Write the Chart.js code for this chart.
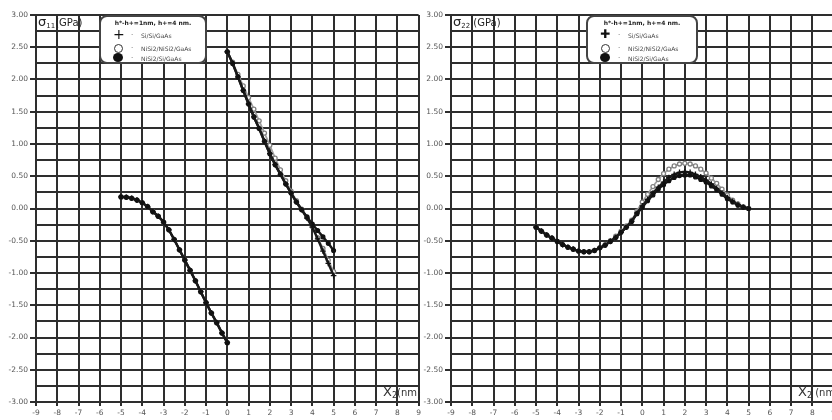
<!DOCTYPE html>
<html>
<head>
<meta charset="utf-8">
<script src="https://cdn.jsdelivr.net/npm/chart.js@4"></script>
<style>
  body { margin: 0; background: #fff; font-family: "DejaVu Sans", sans-serif; }
  #wrap { position: relative; width: 832px; height: 420px; overflow: hidden; }
  .panel { position: absolute; top: 0; width: 424px; height: 420px; }
  .ttl { position: absolute; top: 14px; left: 38px; color: #222; font-size: 10px; white-space: nowrap; }
  .ttl .sig { font-size: 13px; }
  .ttl sub { font-size: 7px; vertical-align: -2px; }
  .xlab { position: absolute; top: 384px; left: 383px; color: #333; font-size: 10px; white-space: nowrap; }
  .xlab .big { font-size: 13px; }
  .xlab sub { font-size: 8px; vertical-align: -2px; }
  .leg { position: absolute; top: 15px; height: 45px; background: #fff; border: 2px solid #444; border-radius: 8px; }
  .leg .hd { position: absolute; top: 2px; left: 0; right: 0; text-align: center; font-size: 6px; font-weight: bold; color: #222; }
  .leg .row { position: absolute; left: 0; height: 10px; font-size: 6px; color: #444; }
  .leg .mk { position: absolute; left: 12px; top: 0; width: 14px; height: 10px; }
  .leg .dot { position: absolute; left: 30px; top: 1px; font-size: 7px; }
  .leg .txt { position: absolute; left: 40px; top: 2px; white-space: nowrap; }
</style>
</head>
<body>
<div id="wrap">
  <div class="panel" style="left:0px">
    <canvas id="c11"></canvas>
    <div class="ttl"><span class="sig">σ</span><sub>11</sub>(GPa)</div>
    <div class="xlab"><span class="big">X</span><sub>2</sub>(nm)</div>
    <div class="leg" id="leg11" style="left:99px;width:104px"></div>
  </div>
  <div class="panel" style="left:415px">
    <canvas id="c22"></canvas>
    <div class="ttl"><span class="sig">σ</span><sub>22</sub> (GPa)</div>
    <div class="xlab"><span class="big">X</span><sub>2</sub> (nm)</div>
    <div class="leg" id="leg22" style="left:171px;width:108px"></div>
  </div>
</div>
<script>
const legendTitle = 'h*-h+=1nm, h+=4 nm.'
const seriesNames = ['Si/Si/GaAs', 'NiSi2/NiSi2/GaAs', 'NiSi2/Si/GaAs']

// sigma11 : x2 from -5 to 0 (all three structures overlap here)
const x11Left = [-5, -4.75, -4.5, -4.25, -4, -3.75, -3.5, -3.25, -3, -2.75, -2.5, -2.25, -2, -1.75, -1.5, -1.25, -1, -0.75, -0.5, -0.25, 0]
const s11Left = [0.18, 0.175, 0.16, 0.13, 0.09, 0.03, -0.05, -0.12, -0.21, -0.33, -0.48, -0.64, -0.80, -0.96, -1.12, -1.29, -1.46, -1.62, -1.77, -1.93, -2.08]

// sigma11 : x2 from 0 to 5
const x11Right = [0, 0.25, 0.5, 0.75, 1, 1.25, 1.5, 1.75, 2, 2.25, 2.5, 2.75, 3, 3.25, 3.5, 3.75, 4, 4.25, 4.5, 4.75, 5]
const s11SiSi = [2.43, 2.25, 2.04, 1.83, 1.62, 1.42, 1.24, 1.04, 0.85, 0.68, 0.53, 0.38, 0.24, 0.10, -0.02, -0.15, -0.29, -0.47, -0.66, -0.85, -1.04]
const s11NiNi = [2.43, 2.27, 2.08, 1.90, 1.72, 1.54, 1.36, 1.17, 0.98, 0.78, 0.60, 0.43, 0.27, 0.12, -0.01, -0.14, -0.28, -0.45, -0.62, -0.80, -0.98]
const s11NiSi = [2.43, 2.25, 2.04, 1.83, 1.62, 1.42, 1.24, 1.04, 0.85, 0.68, 0.53, 0.38, 0.24, 0.10, -0.02, -0.13, -0.24, -0.34, -0.44, -0.54, -0.65]

// sigma22 : x2 from -5 to 5
const x22 = [-5, -4.75, -4.5, -4.25, -4, -3.75, -3.5, -3.25, -3, -2.75, -2.5, -2.25, -2, -1.75, -1.5, -1.25, -1, -0.75, -0.5, -0.25,
    0, 0.25, 0.5, 0.75, 1, 1.25, 1.5, 1.75, 2, 2.25, 2.5, 2.75, 3, 3.25, 3.5, 3.75, 4, 4.25, 4.5, 4.75, 5]
const s22SiSi = [-0.29, -0.35, -0.41, -0.46, -0.51, -0.56, -0.60, -0.63, -0.66, -0.67, -0.67, -0.65, -0.61, -0.57, -0.51, -0.45, -0.37, -0.29, -0.20, -0.07,
    0.04, 0.14, 0.24, 0.33, 0.41, 0.48, 0.53, 0.56, 0.57, 0.56, 0.53, 0.49, 0.44, 0.38, 0.31, 0.24, 0.17, 0.11, 0.06, 0.02, 0.00]
const s22NiNi = [-0.29, -0.35, -0.41, -0.46, -0.51, -0.56, -0.60, -0.63, -0.66, -0.67, -0.67, -0.65, -0.61, -0.56, -0.50, -0.43, -0.35, -0.27, -0.18, -0.04,
    0.10, 0.22, 0.34, 0.45, 0.54, 0.61, 0.66, 0.69, 0.70, 0.69, 0.66, 0.61, 0.55, 0.47, 0.39, 0.30, 0.21, 0.13, 0.07, 0.03, 0.00]
const s22NiSi = [-0.29, -0.35, -0.41, -0.46, -0.51, -0.56, -0.60, -0.63, -0.66, -0.67, -0.67, -0.65, -0.61, -0.57, -0.51, -0.45, -0.37, -0.29, -0.20, -0.08,
    0.02, 0.12, 0.21, 0.30, 0.37, 0.43, 0.48, 0.51, 0.52, 0.52, 0.49, 0.45, 0.41, 0.35, 0.29, 0.22, 0.15, 0.10, 0.05, 0.02, 0.00]

const yTicks = [-3, -2.5, -2, -1.5, -1, -0.5, 0, 0.5, 1, 1.5, 2, 2.5, 3]
const xTicks = [-9, -8, -7, -6, -5, -4, -3, -2, -1, 0, 1, 2, 3, 4, 5, 6, 7, 8, 9]

Chart.defaults.font.family = '"DejaVu Sans", sans-serif'
Chart.defaults.animation = false

function pts(xs, ys) {
    return xs.map((x, i) => ({ x: x, y: ys[i] }))
}

// left branch, a break at x2 = 0, then the right branch
function twoBranches(ys) {
    return pts(x11Left, s11Left).concat([{ x: 0, y: null }], pts(x11Right, ys))
}

// order: the grey open circles go underneath the black marks
const styles = [
    { pointStyle: 'cross', color: '#111', fill: '#111', line: '#1a1a1a', radius: 2.8, width: 2.4, order: 1 },
    { pointStyle: 'circle', color: '#808080', fill: '#fff', line: '#a0a0a0', radius: 2, width: 1.8, order: 3 },
    { pointStyle: 'circle', color: '#111', fill: '#111', line: '#1a1a1a', radius: 1.9, width: 2.4, order: 2 }
]

function makeDataset(name, data, st) {
    return {
        label: name,
        data: data,
        order: st.order,
        showLine: true,
        borderColor: st.line,
        borderWidth: st.width,
        pointStyle: st.pointStyle,
        pointRadius: st.radius,
        pointBorderColor: st.color,
        pointBackgroundColor: st.fill,
        pointBorderWidth: 1.3,
        spanGaps: false
    }
}

function makeOptions() {
    return {
        responsive: true,
        maintainAspectRatio: false,
        layout: { padding: { top: 15, right: 4, left: 0, bottom: 0 } },
        plugins: { legend: { display: false }, tooltip: { enabled: false } },
        scales: {
            x: {
                type: 'linear', min: -9, max: 9,
                afterBuildTicks: s => { s.ticks = xTicks.map(v => ({ value: v })) },
                ticks: { color: '#555', font: { size: 7.5 }, padding: 3, callback: v => v },
                grid: { color: '#2e2e2e', lineWidth: 2, tickLength: 4 },
                border: { color: '#2e2e2e', width: 2 },
                afterFit: s => { s.height = 18 }
            },
            y: {
                min: -3, max: 3,
                ticks: {
                    stepSize: 0.25, autoSkip: false, color: '#555', font: { size: 7.5 }, padding: 2,
                    callback: v => yTicks.includes(v) ? v.toFixed(2) : ''
                },
                grid: {
                    color: '#2e2e2e', lineWidth: 2, tickLength: 6,
                    tickColor: ctx => (ctx.tick && yTicks.includes(ctx.tick.value)) ? '#2e2e2e' : 'rgba(0,0,0,0)'
                },
                border: { color: '#2e2e2e', width: 2 },
                afterFit: s => { s.width = 36 }
            }
        }
    }
}

new Chart(document.getElementById('c11'), {
    type: 'scatter',
    data: {
        datasets: [
            makeDataset(seriesNames[0], twoBranches(s11SiSi), styles[0]),
            makeDataset(seriesNames[1], twoBranches(s11NiNi), styles[1]),
            makeDataset(seriesNames[2], twoBranches(s11NiSi), styles[2])
        ]
    },
    options: makeOptions()
})

new Chart(document.getElementById('c22'), {
    type: 'scatter',
    data: {
        datasets: [
            makeDataset(seriesNames[0], pts(x22, s22SiSi), styles[0]),
            makeDataset(seriesNames[1], pts(x22, s22NiNi), styles[1]),
            makeDataset(seriesNames[2], pts(x22, s22NiSi), styles[2])
        ]
    },
    options: makeOptions()
})

// legend boxes
const markers11 = [
    '<span style="position:absolute;left:0;top:-4px;font-size:14px;color:#111">+</span>',
    '<span style="position:absolute;left:1px;top:1px;width:7px;height:7px;border:1px solid #333;border-radius:50%"></span>',
    '<span style="position:absolute;left:0;top:0;width:10px;height:9px;background:#111;border-radius:50%"></span>'
]
const markers22 = [
    '<span style="position:absolute;left:0;top:-3px;font-size:12px;color:#111">✚</span>',
    '<span style="position:absolute;left:1px;top:1px;width:7px;height:7px;border:1px solid #333;border-radius:50%"></span>',
    '<span style="position:absolute;left:0;top:0;width:10px;height:9px;background:#111;border-radius:50%"></span>'
]

function fillLegend(id, markers) {
    const box = document.getElementById(id)
    let html = '<div class="hd">' + legendTitle + '</div>'
    const rowTops = [13, 26, 36]
    seriesNames.forEach((name, i) => {
        html += '<div class="row" style="top:' + rowTops[i] + 'px;width:100%">' +
            '<div class="mk">' + markers[i] + '</div>' +
            '<span class="dot">·</span><span class="txt">' + name + '</span></div>'
    })
    box.innerHTML = html
}
fillLegend('leg11', markers11)
fillLegend('leg22', markers22)
</script>
</body>
</html>
